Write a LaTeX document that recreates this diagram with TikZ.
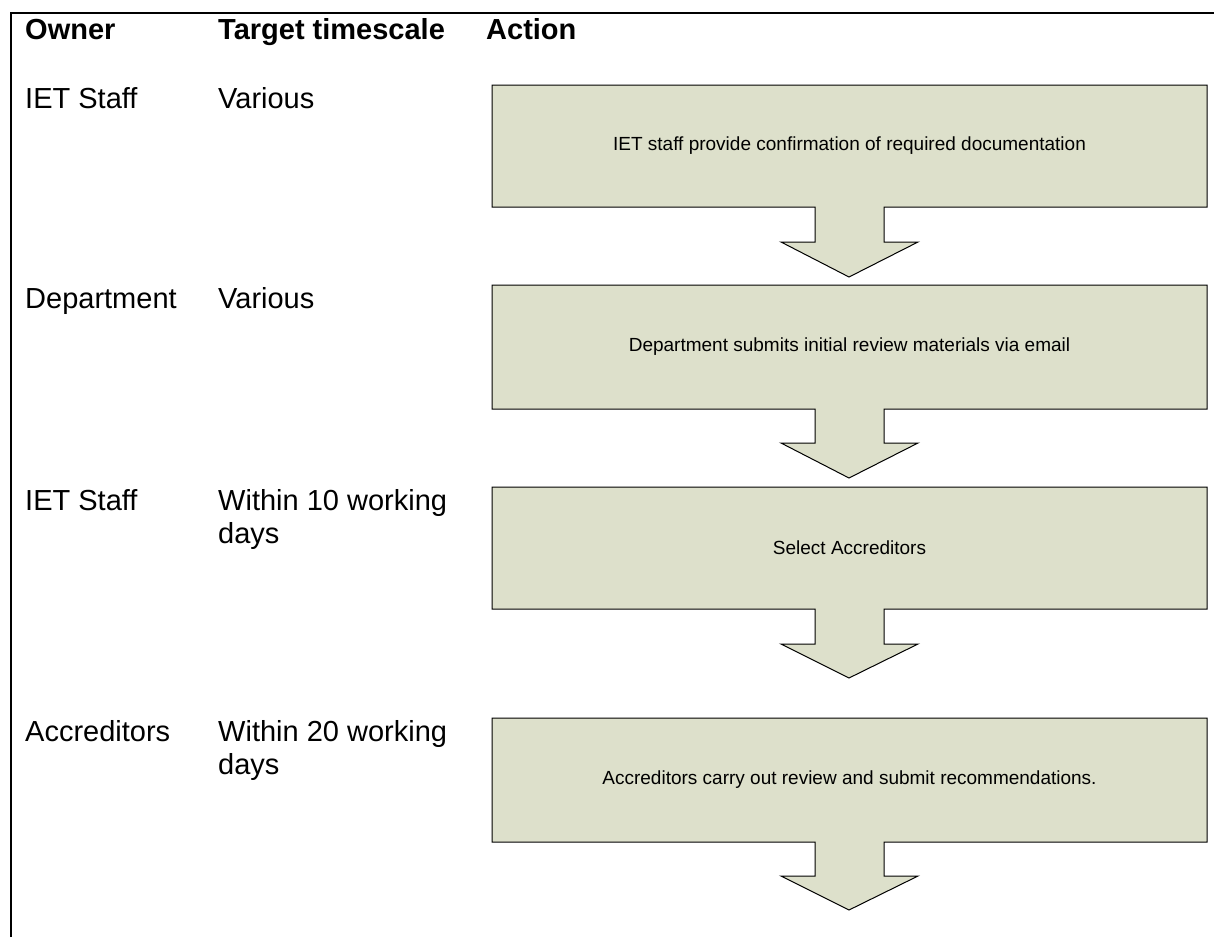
\documentclass[tikz,border=0pt]{standalone}
\usepackage{fontspec}
\setmainfont{Liberation Sans}
\definecolor{boxfill}{RGB}{221,224,203}
\begin{document}
\begin{tikzpicture}[x=1pt,y=-1pt,
  hdr/.style={font=\fontsize{29}{33}\selectfont\bfseries, anchor=base west, inner sep=0pt},
  cell/.style={font=\fontsize{29}{33}\selectfont, anchor=base west, inner sep=0pt, align=left},
  boxtext/.style={font=\fontsize{19}{23}\selectfont, inner sep=0pt},
  stepshape/.style={draw=black, line width=1pt, fill=boxfill, line join=miter}]
\useasboundingbox (0,0) rectangle (1214,937);
% frame
\draw[line width=2pt] (11,937) -- (11,13) -- (1214,13);
% headers
\node[hdr] (hOwner) at (25,39) {Owner};
\node[hdr] (hTime) at (218,39) {Target timescale};
\node[hdr] (hAction) at (486,39) {Action};
% step shapes
\foreach \t/\b/\s/\p/\nm in {85/207/242/277/s1, 285/409/443/478/s2, 487/609/644/678/s3, 718/842/876/910/s4}{
  \draw[stepshape] (492,\t) -- (1207,\t) -- (1207,\b) -- (884,\b) -- (884,\s) -- (918,\s)
     -- (849,\p) -- (781,\s) -- (815,\s) -- (815,\b) -- (492,\b) -- cycle;
}
\node[boxtext] (t1) at (849.5,146) {IET staff provide confirmation of required documentation};
\node[boxtext] (t2) at (849.5,347) {Department submits initial review materials via email};
\node[boxtext] (t3) at (849.5,548) {Select Accreditors};
\node[boxtext] (t4) at (849.5,780) {Accreditors carry out review and submit recommendations.};
% rows (multi-line cells are anchored at the baseline of their last line)
\node[cell] (o1) at (25,108) {IET Staff};
\node[cell] (w1) at (218,108) {Various};
\node[cell] (o2) at (25,308) {Department};
\node[cell] (w2) at (218,308) {Various};
\node[cell] (o3) at (25,510) {IET Staff};
\node[cell] (w3) at (218,543) {Within 10 working\\days};
\node[cell] (o4) at (25,741) {Accreditors};
\node[cell] (w4) at (218,774) {Within 20 working\\days};
\end{tikzpicture}
\end{document}
